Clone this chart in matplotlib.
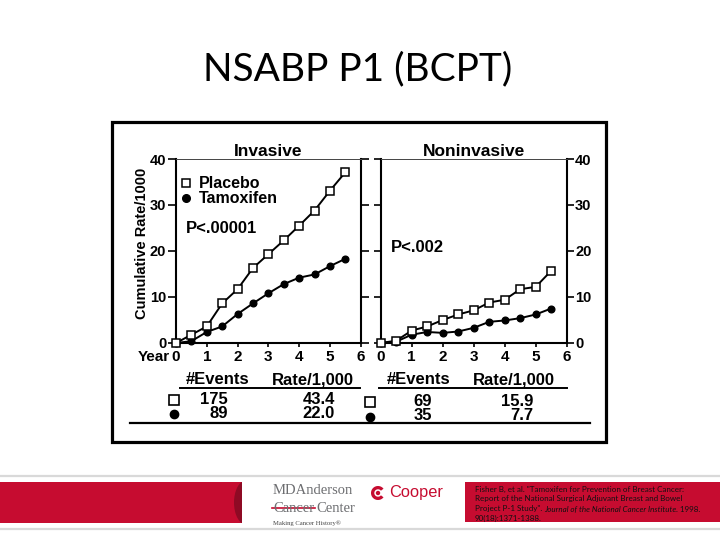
import matplotlib.pyplot as plt
from matplotlib.patches import Rectangle, Wedge, Circle, Ellipse
from matplotlib.lines import Line2D

# cumulative rate per 1000
years = [0, 0.5, 1, 1.5, 2, 2.5, 3, 3.5, 4, 4.5, 5, 5.5]
inv_placebo = [0, 1.8, 3.6, 8.6, 11.7, 16.3, 19.3, 22.3, 25.5, 28.8, 33.1, 37.1]
inv_tamoxifen = [0, 0.4, 2.4, 3.6, 6.3, 8.6, 10.8, 12.8, 14.2, 14.9, 16.7, 18.3]
non_placebo = [0, 0.5, 2.7, 3.6, 5.0, 6.2, 7.1, 8.8, 9.4, 11.7, 12.2, 15.7]
non_tamoxifen = [0, 0.3, 1.8, 2.4, 2.2, 2.5, 3.3, 4.6, 4.9, 5.4, 6.2, 7.5]

x_ticks = [0, 1, 2, 3, 4, 5, 6]
y_ticks = [0, 10, 20, 30, 40]

# table under the panels
events_inv = ['175', '89']
rates_inv = ['43.4', '22.0']
events_non = ['69', '35']
rates_non = ['15.9', '7.7']

citation = [
    'Fisher B, et al. "Tamoxifen for Prevention of Breast Cancer:',
    'Report of the National Surgical Adjuvant Breast and Bowel',
    'Project P-1 Study". ',
    '90(18):1371-1388.',
]
journal = 'Journal of the National Cancer Institute'

W, H = 720, 540
RED = '#c60c30'
CF = 'Liberation Sans'

fig = plt.figure(figsize=(7.2, 5.4), dpi=100)

# overlay axes in pixel coordinates for the slide decorations
ov = fig.add_axes([0, 0, 1, 1], zorder=0)
ov.set_xlim(0, W)
ov.set_ylim(H, 0)
ov.axis('off')


def box(x0, y0, x1, y1):
    return [x0 / W, 1 - y1 / H, (x1 - x0) / W, (y1 - y0) / H]


# slide title
ov.text(358, 69, 'NSABP P1 (BCPT)', fontsize=28, family='Lato', ha='center', va='center')

# frame around the chart image
ov.add_patch(Rectangle((112, 122), 494, 320, fill=False, lw=2.3, ec='black'))

# the two panels
ax1 = fig.add_axes(box(176, 159, 360.7, 343), zorder=2)
ax2 = fig.add_axes(box(380.7, 159, 566.7, 343), zorder=2)

for ax, p, t in [(ax1, inv_placebo, inv_tamoxifen), (ax2, non_placebo, non_tamoxifen)]:
    ax.set_facecolor('none')
    ax.plot(years, t, color='black', lw=1.4, marker='o', ms=4.8, mfc='black', mec='black',
            zorder=3, clip_on=False)
    ax.plot(years, p, color='black', lw=1.4, marker='s', ms=6.2, mfc='white', mec='black',
            mew=1.1, zorder=4, clip_on=False)
    ax.set_xlim(0, 6)
    ax.set_ylim(0, 40)
    ax.set_xticks(x_ticks)
    ax.set_yticks(y_ticks)
    ax.set_xticklabels([str(v) for v in x_ticks], fontsize=11, fontweight='bold', family=CF)
    ax.tick_params(axis='x', direction='out', length=3, width=1.2, pad=2)
    for s in ['left', 'right', 'bottom']:
        ax.spines[s].set_linewidth(1.5)
    ax.spines['top'].set_linewidth(0.7)
    ax.spines['top'].set_color('#444444')

ax1.set_yticklabels([str(v) for v in y_ticks], fontsize=10.5, fontweight='bold', family=CF)
ax1.tick_params(axis='y', direction='out', left=True, right=True, labelleft=True,
                labelright=False, length=6, width=1.2, pad=1)
ax2.set_yticklabels([str(v) for v in y_ticks], fontsize=10.5, fontweight='bold', family=CF)
ax2.tick_params(axis='y', direction='out', left=True, right=True, labelleft=False,
                labelright=True, length=5, width=1.2, pad=1)

ax1.set_title('Invasive', fontsize=12.5, fontweight='bold', family=CF, pad=1)
ax2.set_title('Noninvasive', fontsize=12.5, fontweight='bold', family=CF, pad=2)

handles = [Line2D([], [], ls='none', marker='s', ms=5.8, mfc='white', mec='black', mew=1.1),
           Line2D([], [], ls='none', marker='o', ms=5.5, mfc='black', mec='black')]
ax1.legend(handles, ['Placebo', 'Tamoxifen'], loc='upper left', bbox_to_anchor=(0.03, 0.905),
           frameon=False, handlelength=0.6, handletextpad=0.5, labelspacing=0.0,
           borderaxespad=0, borderpad=0, prop={'family': CF, 'weight': 'bold', 'size': 11.5})

ax1.text(0.055, 0.62, 'P<.00001', transform=ax1.transAxes, fontsize=12, fontweight='bold',
         family=CF, va='center')
ax2.text(0.055, 0.52, 'P<.002', transform=ax2.transAxes, fontsize=12, fontweight='bold',
         family=CF, va='center')

ov.text(142, 243, 'Cumulative Rate/1000', rotation=90, fontsize=10.5, fontweight='bold',
        family=CF, ha='center', va='center')
ov.text(170, 357, 'Year', fontsize=11, fontweight='bold', family=CF, ha='right', va='center')

# events table
tb = dict(fontsize=12, fontweight='bold', family=CF, va='center')
ov.text(218, 380, '#Events', ha='center', **tb)
ov.text(313, 380, 'Rate/1,000', ha='center', **tb)
ov.text(419, 380, '#Events', ha='center', **tb)
ov.text(514, 380, 'Rate/1,000', ha='center', **tb)
ov.plot([180, 360], [388, 388], color='black', lw=1.4)
ov.plot([379, 567], [388, 388], color='black', lw=1.4)
ov.plot([130, 590], [423, 423], color='black', lw=1.6)

row_y = [400, 414]
for i, y in enumerate(row_y):
    ov.text(228, y, events_inv[i], ha='right', **tb)
    ov.text(335, y, rates_inv[i], ha='right', **tb)
    ov.text(432, y + 2, events_non[i], ha='right', **tb)
    ov.text(533, y + 2, rates_non[i], ha='right', **tb)
ov.plot([174], [400], ls='none', marker='s', ms=6.5, mfc='white', mec='black', mew=1.2)
ov.plot([174], [414], ls='none', marker='o', ms=6, mfc='black', mec='black')
ov.plot([370], [402], ls='none', marker='s', ms=6.5, mfc='white', mec='black', mew=1.2)
ov.plot([370], [417], ls='none', marker='o', ms=6, mfc='black', mec='black')

# footer band
ov.plot([0, W], [476, 476], color='#d9d9d9', lw=1.6)
ov.plot([0, W], [529, 529], color='#d9d9d9', lw=1.6)
band = Rectangle((0, 482), 242, 41, color=RED, lw=0)
ov.add_patch(band)
shade = Ellipse((246, 502.5), 24, 44, color='#8e0a24', lw=0)
ov.add_patch(shade)
shade.set_clip_path(band)
ov.add_patch(Rectangle((465, 482), 255, 40, color=RED, lw=0))

# logo
logo = dict(fontsize=10.5, family='Liberation Serif', color='#6d6e71', ha='left', va='center')
ov.text(273, 490, 'MDAnderson', **logo)
ov.text(273, 508, 'Cancer', **logo)
ov.text(316, 508, 'Center', **logo)
ov.plot([272, 315], [508, 508], color=RED, lw=1.2)
ov.text(273, 523, 'Making Cancer History\u00ae', fontsize=4.8, family='Liberation Serif',
        color='#444444', ha='left', va='center')
ov.add_patch(Wedge((378, 493), 7, 38, 322, width=3.3, color=RED, lw=0))
ov.add_patch(Circle((378, 493), 2.2, color=RED, lw=0))
ov.text(389, 493, 'Cooper', fontsize=11.8, family=CF, color=RED, ha='left', va='center')

# citation
cit = dict(fontsize=5.8, family='Lato', color='#111111', ha='left', va='center')
ov.text(475, 489, citation[0], **cit)
ov.text(475, 499, citation[1], **cit)
t3 = ov.text(475, 509, citation[2], **cit)
t4 = ov.annotate(journal, xy=(1, 0.5), xycoords=t3, style='italic', **cit)
ov.annotate('. 1998.', xy=(1, 0.5), xycoords=t4, **cit)
ov.text(475, 518.5, citation[3], **cit)

fig.savefig('out.png', dpi=100)
